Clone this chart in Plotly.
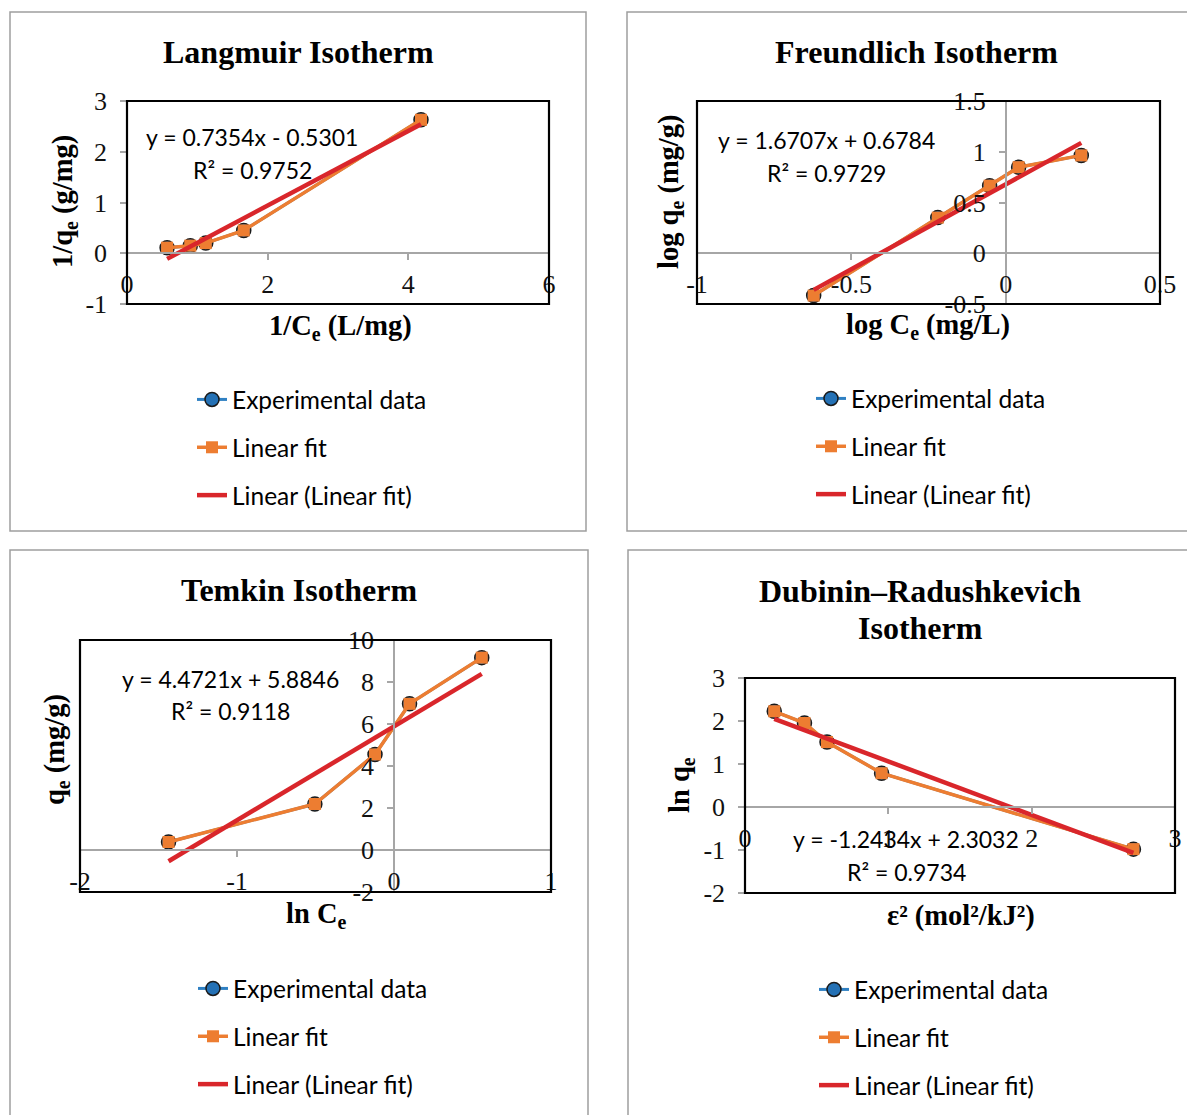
import plotly.graph_objects as go

# ---------------- data ----------------
lang_x = [0.57, 0.90, 1.12, 1.66, 4.18]
lang_y = [0.11, 0.15, 0.20, 0.45, 2.63]
lang_slope, lang_icpt = 0.7354, -0.5301

freu_x = [-0.622, -0.220, -0.052, 0.042, 0.245]
freu_y = [-0.417, 0.351, 0.666, 0.848, 0.964]
freu_slope, freu_icpt = 1.6707, 0.6784

temk_x = [-1.436, -0.504, -0.121, 0.099, 0.559]
temk_y = [0.38, 2.19, 4.55, 6.96, 9.16]
temk_slope, temk_icpt = 4.4721, 5.8846

dr_x = [0.204, 0.415, 0.572, 0.953, 2.71]
dr_y = [2.226, 1.953, 1.51, 0.786, -0.98]
dr_slope, dr_icpt = -1.2434, 2.3032

lang_xticks = [0, 2, 4, 6]
lang_yticks = [-1, 0, 1, 2, 3]
freu_xticks = [-1, -0.5, 0, 0.5]
freu_yticks = [-0.5, 0, 0.5, 1, 1.5]
temk_xticks = [-2, -1, 0, 1]
temk_yticks = [-2, 0, 2, 4, 6, 8, 10]
dr_xticks = [0, 1, 2, 3]
dr_yticks = [-2, -1, 0, 1, 2, 3]

titles = ["Langmuir Isotherm", "Freundlich Isotherm", "Temkin Isotherm",
          "Dubinin–Radushkevich<br>Isotherm"]
xtitles = ["1/C<sub>e</sub> (L/mg)", "log C<sub>e</sub> (mg/L)", "ln C<sub>e</sub>",
           "ε² (mol²/kJ²)"]
ytitles = ["1/q<sub>e</sub> (g/mg)", "log q<sub>e</sub> (mg/g)", "q<sub>e</sub> (mg/g)",
           "ln q<sub>e</sub>"]
eq_texts = [("y = 0.7354x - 0.5301", "R² = 0.9752"),
            ("y = 1.6707x + 0.6784", "R² = 0.9729"),
            ("y = 4.4721x + 5.8846", "R² = 0.9118"),
            ("y = -1.2434x + 2.3032", "R² = 0.9734")]
series_names = ["Experimental data", "Linear fit", "Linear (Linear fit)"]

# ---------------- layout geometry (page pixels) ----------------
OFF = 8                      # page body margin
W, H = 1195 - OFF, 1115 - OFF
def px(x): return (x - OFF) / W
def py(y): return 1 - (y - OFF) / H

panels = [
    dict(x=lang_x, y=lang_y, m=lang_slope, b=lang_icpt, xt=lang_xticks, yt=lang_yticks,
         box=(127, 549, 101, 304), xr=[0, 6], yr=[-1, 3],
         title=[(298, 52)], xtitle=(340, 327), ytitle=(64, 202),
         eq=[(252, 137), (252, 170)], leg=(232, 399)),
    dict(x=freu_x, y=freu_y, m=freu_slope, b=freu_icpt, xt=freu_xticks, yt=freu_yticks,
         box=(697, 1160, 101, 304), xr=[-1, 0.5], yr=[-0.5, 1.5],
         title=[(916, 52)], xtitle=(928, 326), ytitle=(671, 192),
         eq=[(826, 140), (826, 173)], leg=(851, 398)),
    dict(x=temk_x, y=temk_y, m=temk_slope, b=temk_icpt, xt=temk_xticks, yt=temk_yticks,
         box=(80, 551, 640, 892), xr=[-2, 1], yr=[-2, 10],
         title=[(299, 590)], xtitle=(316, 915), ytitle=(56, 750),
         eq=[(230, 679), (230, 711)], leg=(233, 988)),
    dict(x=dr_x, y=dr_y, m=dr_slope, b=dr_icpt, xt=dr_xticks, yt=dr_yticks,
         box=(745, 1175, 678, 893), xr=[0, 3], yr=[-2, 3],
         title=[(920, 591), (920, 628)], xtitle=(961, 916), ytitle=(681, 785),
         eq=[(906, 839), (906, 872)], leg=(854, 989)),
]

BLUE_LINE = "#2F80C3"
BLUE_FILL = "#2471B5"
ORANGE = "#ED7D31"
RED = "#D9262B"
GRAY = "#A6A6A6"
SERIF = "Liberation Serif"
SANS = "Lato"

fig = go.Figure()
shapes = []
annotations = []
layout = {}

for i, p in enumerate(panels, start=1):
    sfx = "" if i == 1 else str(i)
    xa, ya = "x" + sfx, "y" + sfx
    leg = "legend" + sfx
    x0, x1, y0, y1 = p["box"]
    xdom = [px(x0), px(x1)]
    ydom = [py(y1), py(y0)]
    xr, yr = p["xr"], p["yr"]
    xpos = ydom[0] + (0 - yr[0]) / (yr[1] - yr[0]) * (ydom[1] - ydom[0])
    ypos = xdom[0] + (0 - xr[0]) / (xr[1] - xr[0]) * (xdom[1] - xdom[0])

    fig.add_trace(go.Scatter(
        x=p["x"], y=p["y"], xaxis=xa, yaxis=ya, mode="lines+markers",
        name=series_names[0], legend=leg, legendgroup=f"g{i}a",
        line=dict(color=BLUE_LINE, width=3),
        marker=dict(symbol="circle", size=14, color=BLUE_FILL,
                    line=dict(color="#1a1a1a", width=1.5)),
        cliponaxis=False))
    fig.add_trace(go.Scatter(
        x=p["x"], y=p["y"], xaxis=xa, yaxis=ya, mode="lines+markers",
        name=series_names[1], legend=leg, legendgroup=f"g{i}b",
        line=dict(color=ORANGE, width=3.5),
        marker=dict(symbol="square", size=12, color=ORANGE),
        cliponaxis=False))
    tx = [min(p["x"]), max(p["x"])]
    fig.add_trace(go.Scatter(
        x=tx, y=[p["m"] * v + p["b"] for v in tx], xaxis=xa, yaxis=ya,
        mode="lines", name=series_names[2], legend=leg, legendgroup=f"g{i}c",
        line=dict(color=RED, width=4.5), cliponaxis=False))

    layout["xaxis" + sfx] = dict(
        domain=xdom, range=xr, anchor="free", position=xpos,
        showgrid=False, zeroline=False, showline=True, linecolor=GRAY, linewidth=1.5,
        ticks="outside", ticklen=6, tickcolor=GRAY, tickwidth=1.5,
        tickvals=p["xt"], ticktext=[str(v) for v in p["xt"]],
        ticklabelstandoff=2,
        tickfont=dict(family=SERIF, size=26, color="#111"))
    layout["yaxis" + sfx] = dict(
        domain=ydom, range=yr, anchor="free", position=ypos,
        showgrid=False, zeroline=False, showline=True, linecolor=GRAY, linewidth=1.5,
        ticks="outside", ticklen=6, tickcolor=GRAY, tickwidth=1.5,
        tickvals=p["yt"], ticktext=[str(v) for v in p["yt"]],
        ticklabelstandoff=8,
        tickfont=dict(family=SERIF, size=26, color="#111"))

    # black plot-area box
    shapes.append(dict(type="rect", xref=xa + " domain", yref=ya + " domain",
                       x0=0, x1=1, y0=0, y1=1, line=dict(color="black", width=2.2),
                       layer="above"))

    # titles
    ttl = titles[i - 1].split("<br>")
    for (tx_, ty_), t in zip(p["title"], ttl):
        annotations.append(dict(text=f"<b>{t}</b>", x=px(tx_), y=py(ty_), xref="paper",
                                yref="paper", showarrow=False, xanchor="center",
                                yanchor="middle",
                                font=dict(family=SERIF, size=32, color="black")))
    annotations.append(dict(text=f"<b>{xtitles[i-1]}</b>", x=px(p["xtitle"][0]),
                            y=py(p["xtitle"][1]), xref="paper", yref="paper",
                            showarrow=False, xanchor="center", yanchor="middle",
                            font=dict(family=SERIF, size=28.5, color="black")))
    annotations.append(dict(text=f"<b>{ytitles[i-1]}</b>", x=px(p["ytitle"][0]),
                            y=py(p["ytitle"][1]), xref="paper", yref="paper",
                            showarrow=False, xanchor="center", yanchor="middle",
                            textangle=-90,
                            font=dict(family=SERIF, size=28.5, color="black")))
    for (ex, ey), t in zip(p["eq"], eq_texts[i - 1]):
        annotations.append(dict(text=t, x=px(ex), y=py(ey), xref="paper", yref="paper",
                                showarrow=False, xanchor="center", yanchor="middle",
                                font=dict(family=SANS, size=23, color="black")))

    lx, ly = p["leg"]
    layout[leg] = dict(x=px(lx - 40), y=py(ly - 22), xanchor="left", yanchor="top",
                       bgcolor="rgba(0,0,0,0)", borderwidth=0,
                       traceorder="grouped", tracegroupgap=13, itemwidth=30,
                       font=dict(family=SANS, size=24.5, color="black"))

# panel frames
frames = [(10, 586, 12, 531), (627, 1210, 12, 531), (10, 588, 550, 1130), (628, 1210, 550, 1130)]
for fx0, fx1, fy0, fy1 in frames:
    shapes.append(dict(type="rect", xref="paper", yref="paper",
                       x0=px(fx0), x1=px(fx1), y0=py(fy1), y1=py(fy0),
                       line=dict(color="#9E9E9E", width=1.5), layer="below"))

fig.update_layout(
    width=W, height=H, autosize=False,
    margin=dict(l=0, r=0, t=0, b=0, pad=0, autoexpand=False),
    paper_bgcolor="white", plot_bgcolor="white",
    showlegend=True, shapes=shapes, annotations=annotations,
    **layout)

fig.write_html("out.html")
